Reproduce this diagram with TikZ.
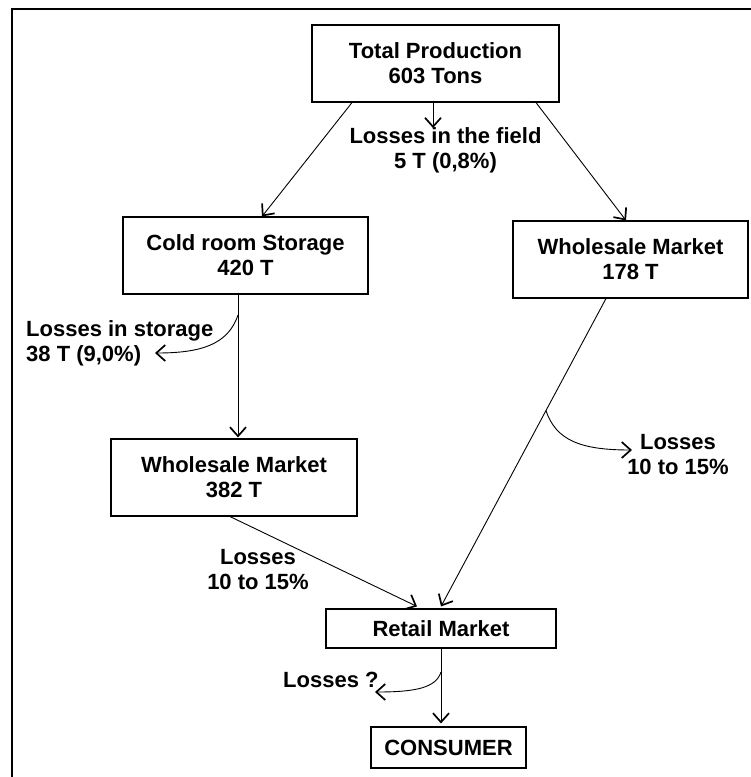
\documentclass[tikz,border=0pt]{standalone}
\usepackage{fontspec}
\setmainfont{Liberation Sans}
\usetikzlibrary{arrows.meta,calc}
\begin{document}
\begin{tikzpicture}[x=1pt,y=1pt,
  txt/.style={font=\fontsize{22}{25}\selectfont\bfseries, inner sep=0pt},
  box/.style 2 args={txt, draw, line width=1.1pt, align=center, minimum width=#1, minimum height=#2},
  lbl/.style={txt, align=center},
  lbll/.style={txt, align=left, anchor=west},
  arr/.style={line width=0.9pt, -{Straight Barb[length=9pt,width=16pt,line width=1.7pt]}},
  frame/.style={line width=1.6pt}
]
\useasboundingbox (0,0) rectangle (751,-777);
% frame
\coordinate (f1) at (12,-790);
\coordinate (f2) at (12,-9);
\coordinate (f3) at (760,-9);
\draw[frame] (f1) -- (f2) -- (f3);

% boxes
\node[box={247pt}{77pt}] (tp) at (435.5,-63.5) {Total Production\\603 Tons};
\node[box={245pt}{77pt}] (cold) at (245.5,-255.5) {Cold room Storage\\420 T};
\node[box={235pt}{77pt}] (wsr) at (630.5,-259.5) {Wholesale Market\\178 T};
\node[box={246pt}{77pt}] (wsl) at (234,-477.5) {Wholesale Market\\382 T};
\node[box={230pt}{39pt}] (retail) at (441,-628.5) {Retail Market};
\node[box={155pt}{41pt}] (cons) at (448.5,-747.5) {CONSUMER};

% labels
\node[lbl] (field) at (445.5,-150.5) {Losses in the field\\5 T (0,8\%)};
\node[lbll] (stor) at (26,-343.5) {Losses in storage\\38 T (9,0\%)};
\node[lbl] (lossr) at (678,-454.5) {Losses\\10 to 15\%};
\node[lbl] (lossl) at (258,-569.5) {Losses\\10 to 15\%};
\node[lbll] (lossq) at (283,-680) {Losses ?};

% connectors
\coordinate (fa) at (433,-128);
\draw[arr] (tp.south -| fa) -- (fa);
\draw[arr] ([xshift=-83.5pt]tp.south) -- ([xshift=16.5pt]cold.north);
\draw[arr] ([xshift=100.5pt]tp.south) -- ([xshift=-4.5pt]wsr.north);

\coordinate (v1) at (238,-300);
\draw[arr] (cold.south -| v1) -- ([yshift=1pt]v1 |- wsl.north);
\coordinate (b1) at (238,-315);
\coordinate (t1) at (155,-353);
\draw[arr] (b1) .. controls (228,-345) and (200,-353) .. (t1);

\draw[arr] ([xshift=-24.5pt]wsr.south) coordinate (r0) -- ([yshift=2pt]retail.north) coordinate (r1);
\coordinate (b2) at ($(r0)!0.364!(r1)$);
\coordinate (t2) at (632,-450);
\draw[arr] (b2) .. controls (556,-440) and (580,-450) .. (t2);

\draw[arr] ([xshift=-4pt]wsl.south) -- ([xshift=-24pt,yshift=2pt]retail.north);

\draw[arr] (retail.south) -- ([yshift=3pt]retail.south |- cons.north);
\coordinate (b3) at (441,-672);
\coordinate (t3) at (375,-692);
\draw[arr] (b3) .. controls (436,-688) and (415,-692) .. (t3);
\end{tikzpicture}
\end{document}
